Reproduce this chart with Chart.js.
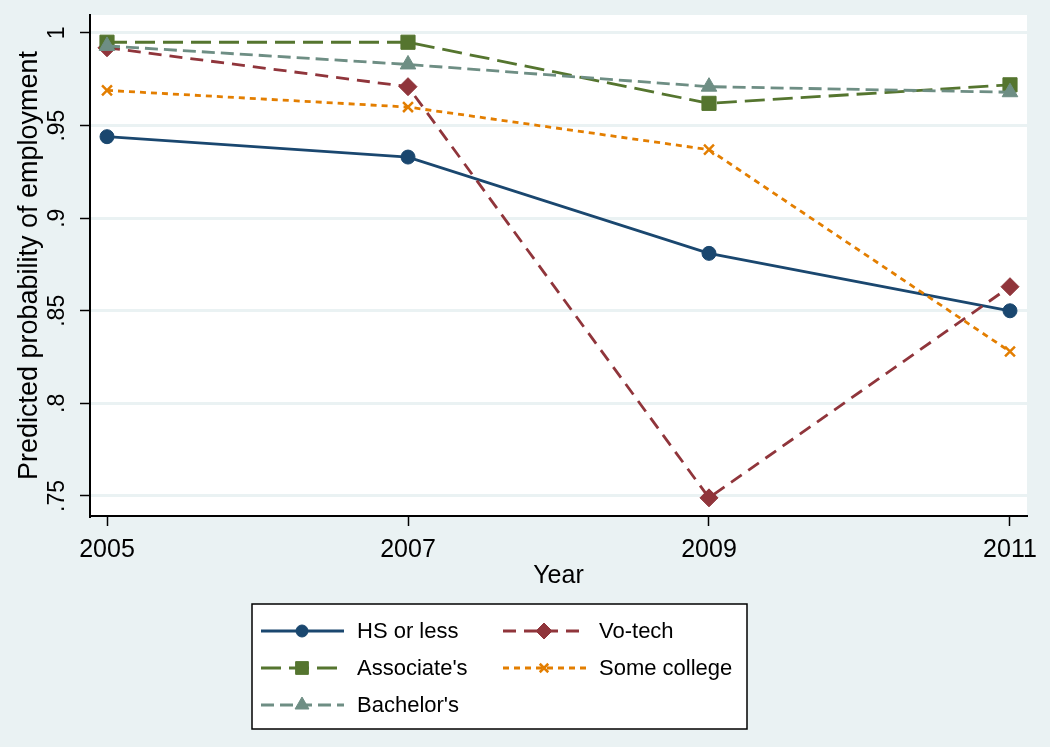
<!DOCTYPE html>
<html>
<head>
<meta charset="utf-8">
<script src="https://cdn.jsdelivr.net/npm/chart.js"></script>
<style>
  html, body { margin: 0; padding: 0; background: #eaf2f3; }
  #wrap { width: 1050px; height: 747px; }
</style>
</head>
<body>
<div id="wrap"><canvas id="empChart" width="1050" height="747"></canvas></div>
<script>
const years = [2005, 2007, 2009, 2011];
const yTickValues = [0.75, 0.8, 0.85, 0.9, 0.95, 1];
const yTickLabels = ['.75', '.8', '.85', '.9', '.95', '1'];

const hsOrLess = [0.944, 0.933, 0.881, 0.850];
const voTech = [0.992, 0.971, 0.749, 0.863];
const associates = [0.995, 0.995, 0.962, 0.972];
const someCollege = [0.969, 0.960, 0.937, 0.828];
const bachelors = [0.993, 0.983, 0.971, 0.968];

const FONT = "'Liberation Sans', Arial, sans-serif";

function pts(vals) {
  return years.map((yr, i) => ({ x: yr, y: vals[i] }));
}

function series(label, vals, color, dash, style, radius, order) {
  return {
    label,
    data: pts(vals),
    borderColor: color,
    backgroundColor: color,
    borderWidth: 2.8,
    borderDash: dash,
    tension: 0,
    pointStyle: style,
    pointRadius: radius,
    pointHoverRadius: radius,
    pointBorderWidth: style === 'crossRot' ? 2.5 : 1,
    pointBorderColor: color,
    pointBackgroundColor: color,
    order
  };
}

const datasets = [
  series('HS or less', hsOrLess, '#1a476f', [], 'circle', 7, 5),
  series('Vo-tech', voTech, '#90353b', [13, 8], 'rectRot', 9, 4),
  series("Associate's", associates, '#55752f', [20, 8], 'rect', 10, 3),
  series('Some college', someCollege, '#e37e00', [6, 5], 'crossRot', 7, 2),
  series("Bachelor's", bachelors, '#6e8e84', [13, 6], 'triangle', 9, 1)
];

// white plot region on the blue-grey page
const plotBg = {
  id: 'plotBg',
  beforeDraw(chart) {
    const { ctx, chartArea: a } = chart;
    ctx.save();
    ctx.fillStyle = '#eaf2f3';
    ctx.fillRect(0, 0, chart.width, chart.height);
    ctx.fillStyle = '#ffffff';
    ctx.fillRect(a.left, a.top, a.right - a.left, a.bottom - a.top);
    ctx.restore();
  }
};

// two-column boxed legend like the Stata one
const boxLegend = {
  id: 'boxLegend',
  afterDraw(chart) {
    const ctx = chart.ctx;
    const box = { x: 252, y: 604, w: 495, h: 125 };
    ctx.save();
    ctx.fillStyle = '#ffffff';
    ctx.fillRect(box.x, box.y, box.w, box.h);
    ctx.strokeStyle = '#000000';
    ctx.lineWidth = 1.5;
    ctx.strokeRect(box.x, box.y, box.w, box.h);

    const colX = [261, 503];
    const rowY = [631, 668, 705];
    ctx.font = '22px ' + FONT;
    ctx.textBaseline = 'middle';
    ctx.textAlign = 'left';
    chart.data.datasets.forEach((ds, i) => {
      const x0 = colX[i % 2];
      const y = rowY[Math.floor(i / 2)];
      ctx.strokeStyle = ds.borderColor;
      ctx.lineWidth = ds.borderWidth;
      ctx.setLineDash(ds.borderDash);
      ctx.beginPath();
      ctx.moveTo(x0, y);
      ctx.lineTo(x0 + 83, y);
      ctx.stroke();
      ctx.setLineDash([]);
      ctx.fillStyle = ds.pointBackgroundColor;
      ctx.strokeStyle = ds.pointBorderColor;
      ctx.lineWidth = ds.pointBorderWidth;
      Chart.helpers.drawPoint(ctx, {
        pointStyle: ds.pointStyle,
        radius: ds.pointStyle === 'crossRot' ? 6 : ds.pointRadius - 1,
        rotation: 0,
        borderWidth: ds.pointBorderWidth
      }, x0 + 41, y);
      ctx.fillStyle = '#000000';
      ctx.fillText(ds.label, x0 + 96, y + 1);
    });
    ctx.restore();
  }
};

new Chart(document.getElementById('empChart'), {
  type: 'line',
  data: { datasets },
  plugins: [plotBg, boxLegend],
  options: {
    responsive: false,
    animation: false,
    events: [],
    layout: { padding: { top: 15, right: 23, left: 0, bottom: 158 } },
    plugins: {
      legend: { display: false },
      tooltip: { enabled: false }
    },
    scales: {
      x: {
        type: 'linear',
        min: 2004.887,
        max: 2011.113,
        afterBuildTicks(axis) {
          axis.ticks = years.map(v => ({ value: v }));
        },
        afterFit(axis) {
          axis.height = 73;
          axis.paddingLeft = 0;
          axis.paddingRight = 0;
        },
        ticks: {
          color: '#000',
          font: { family: FONT, size: 25, lineHeight: 1 },
          padding: 12,
          maxRotation: 0,
          callback: v => String(v)
        },
        grid: {
          drawOnChartArea: false,
          drawTicks: true,
          tickLength: 10,
          tickColor: '#000',
          tickWidth: 1.5
        },
        border: { display: true, color: '#000', width: 2 },
        title: {
          display: true,
          text: 'Year',
          color: '#000',
          font: { family: FONT, size: 25, lineHeight: 1 },
          padding: { top: 0, bottom: 0 }
        }
      },
      y: {
        min: 0.7392,
        max: 1.0097,
        afterBuildTicks(axis) {
          axis.ticks = yTickValues.map(v => ({ value: v }));
        },
        afterFit(axis) {
          axis.width = 90;
          axis.paddingTop = 0;
          axis.paddingBottom = 0;
        },
        ticks: {
          color: '#000',
          font: { family: FONT, size: 23, lineHeight: 1 },
          padding: 6,
          minRotation: 90,
          maxRotation: 90,
          crossAlign: 'center',
          callback: v => yTickLabels[yTickValues.indexOf(v)]
        },
        grid: {
          color: '#eaf2f3',
          lineWidth: 3,
          drawTicks: true,
          tickLength: 10,
          tickColor: '#000',
          tickWidth: 1.5
        },
        border: { display: true, color: '#000', width: 2 },
        title: {
          display: true,
          text: 'Predicted probability of employment',
          color: '#000',
          font: { family: FONT, size: 27, lineHeight: 1 },
          padding: { top: 16, bottom: 8 }
        }
      }
    }
  }
});
</script>
</body>
</html>
